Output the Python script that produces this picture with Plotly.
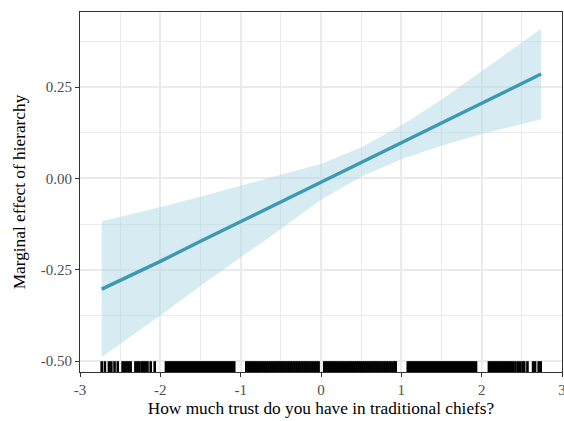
import plotly.graph_objects as go

# Marginal effect line and 95% band
grid_x = [-2.73, -2.0, -1.5, -1.0, -0.5, 0.0, 0.5, 1.0, 1.5, 2.0, 2.74]
effect = [-0.303, -0.227, -0.172, -0.118, -0.064, -0.009, 0.045, 0.099, 0.153, 0.208, 0.286]
upper = [-0.117, -0.079, -0.050, -0.021, 0.010, 0.040, 0.085, 0.145, 0.216, 0.294, 0.410]
lower = [-0.489, -0.375, -0.294, -0.215, -0.138, -0.058, 0.005, 0.053, 0.090, 0.122, 0.162]

# Rug of observed values of the moderator
rug_x = [
    -2.73, -2.69, -2.64, -2.61, -2.57, -2.53,
    -2.47, -2.445, -2.42, -2.395, -2.37,
    -2.31, -2.285, -2.26,
    -2.23, -2.205, -2.18, -2.16, -2.12, -2.07,
    -1.93, -1.905, -1.88, -1.855, -1.83, -1.805, -1.78, -1.755, -1.73, -1.705,
    -1.68, -1.655, -1.63, -1.605, -1.58, -1.555, -1.53, -1.505, -1.48, -1.455,
    -1.43, -1.405, -1.38, -1.355, -1.33, -1.305, -1.28, -1.255, -1.23, -1.205,
    -1.18, -1.155, -1.13, -1.105, -1.08,
    -0.93, -0.905, -0.88, -0.855, -0.83, -0.805, -0.78, -0.755, -0.73, -0.705,
    -0.68, -0.655, -0.63, -0.605, -0.58, -0.555, -0.53, -0.505, -0.48, -0.455,
    -0.43, -0.405, -0.38, -0.355, -0.33, -0.305, -0.28, -0.255, -0.23, -0.205,
    -0.18, -0.155, -0.13, -0.105, -0.08, -0.055, -0.03,
    0.04, 0.065, 0.09, 0.115, 0.14, 0.165, 0.19, 0.215, 0.24, 0.265,
    0.29, 0.315, 0.34, 0.365, 0.39, 0.415, 0.44, 0.465, 0.49, 0.515,
    0.54, 0.565, 0.59, 0.615, 0.64, 0.665, 0.69, 0.715, 0.74, 0.765,
    0.79, 0.815, 0.84, 0.865, 0.89, 0.915, 0.93,
    1.08, 1.105, 1.13, 1.155, 1.18, 1.205, 1.23, 1.255, 1.28, 1.305,
    1.33, 1.355, 1.38, 1.405, 1.43, 1.455, 1.48, 1.505, 1.53, 1.555,
    1.58, 1.605, 1.63, 1.655, 1.68, 1.705, 1.73, 1.755, 1.78, 1.805,
    1.83, 1.855, 1.88, 1.905, 1.93,
    2.09, 2.115, 2.14, 2.165, 2.19, 2.215, 2.24, 2.265, 2.29, 2.315,
    2.34, 2.365, 2.39, 2.42, 2.45, 2.48, 2.51, 2.53, 2.57,
    2.64, 2.665, 2.71, 2.735,
]

x_ticks = [-3, -2, -1, 0, 1, 2, 3]
x_ticktext = ["-3", "-2", "-1", "0", "1", "2", "3"]
y_ticks = [-0.5, -0.25, 0.0, 0.25]
y_ticktext = ["-0.50", "-0.25", "0.00", "0.25"]

FONT = "Liberation Serif"

fig = go.Figure()
fig.add_trace(go.Scatter(
    x=grid_x + grid_x[::-1], y=upper + lower[::-1],
    fill="toself", fillcolor="rgba(173,216,230,0.5)",
    line=dict(width=0), mode="lines", hoverinfo="skip", showlegend=False))
fig.add_trace(go.Scatter(
    x=grid_x, y=effect, mode="lines",
    line=dict(color="#3B9AB2", width=3.4), showlegend=False))

for rx in rug_x:
    fig.add_shape(type="line", xref="x", yref="y domain",
                  x0=rx, x1=rx, y0=0, y1=0.03,
                  line=dict(color="black", width=2.6), layer="above")

axis_common = dict(
    showline=True, linecolor="#333333", linewidth=1.1, mirror=True,
    ticks="outside", ticklen=4, tickwidth=1.1, tickcolor="#333333",
    tickfont=dict(family=FONT, size=15, color="#4D4D4D"),
    showgrid=True, gridcolor="#EBEBEB", gridwidth=1.6,
    zeroline=False, tickmode="array", ticklabeloverflow="allow",
    automargin=False,
)

fig.update_layout(
    width=564, height=421,
    margin=dict(l=80, r=2, t=12, b=49),
    paper_bgcolor="white", plot_bgcolor="white",
    font=dict(family=FONT, color="black"),
    xaxis=dict(range=[-3, 3], tickvals=x_ticks, ticktext=x_ticktext,
               minor=dict(dtick=0.5, tick0=0, showgrid=True, gridcolor="#EBEBEB", gridwidth=0.9, ticks=""),
               title=dict(text="How much trust do you have in traditional chiefs?",
                          font=dict(family=FONT, size=17.3, color="black"), standoff=4),
               **axis_common),
    yaxis=dict(range=[-0.530, 0.456], tickvals=y_ticks, ticktext=y_ticktext,
               minor=dict(dtick=0.125, tick0=0, showgrid=True, gridcolor="#EBEBEB", gridwidth=0.9, ticks=""),
               title=dict(text="Marginal effect of hierarchy",
                          font=dict(family=FONT, size=17.3, color="black"), standoff=10),
               **axis_common),
)

fig.write_html("out.html")
